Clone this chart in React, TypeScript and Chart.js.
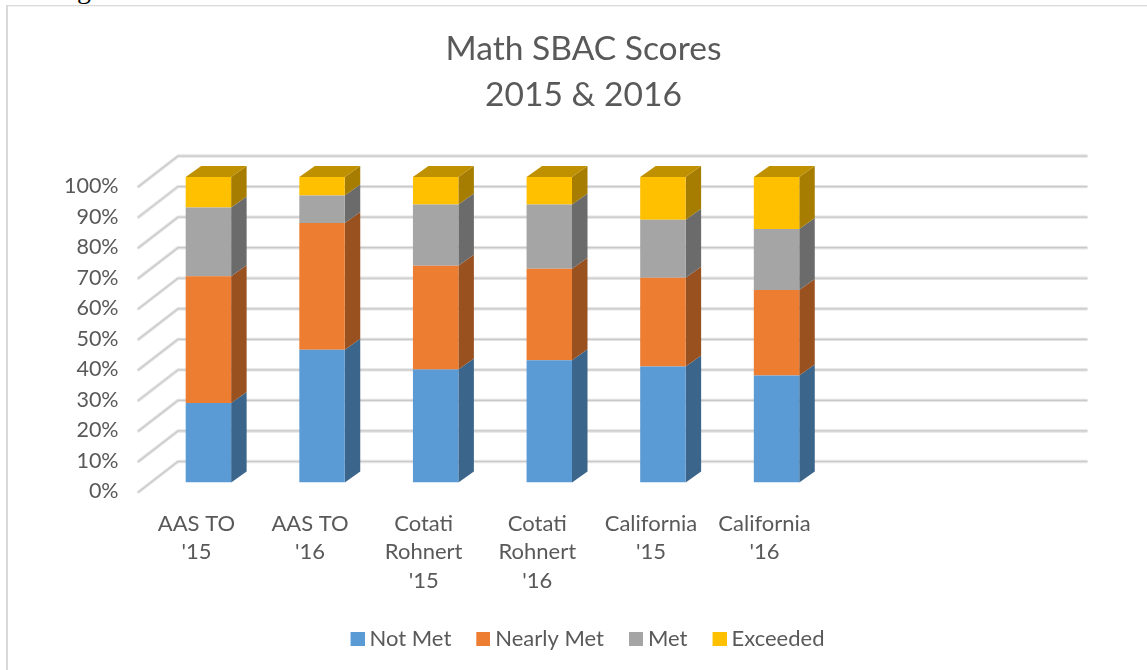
import React, { useEffect, useRef } from "react";
import { Chart, registerables } from "chart.js";

Chart.register(...registerables);

const categories: (string | string[])[] = [
  ["AAS TO", "'15"],
  ["AAS TO", "'16"],
  ["Cotati", "Rohnert", "'15"],
  ["Cotati", "Rohnert", "'16"],
  ["California", "'15"],
  ["California", "'16"],
  "",
  "",
];
const notMet = [26, 43.5, 37, 40, 38, 35];
const nearlyMet = [41.5, 41.5, 34, 30, 29, 28];
const met = [22.5, 9, 20, 21, 19, 20];
const exceeded = [10, 6, 9, 9, 14, 17];

const FONT = "Lato";
const TEXT = "#595959";

const shade = (hex: string, k: number) => {
  const n = parseInt(hex.slice(1), 16);
  const r = Math.round(((n >> 16) & 255) * k);
  const g = Math.round(((n >> 8) & 255) * k);
  const b = Math.round((n & 255) * k);
  return `rgb(${r},${g},${b})`;
};

const depth = { dx: 15.5, dy: -11 };

const legendSwatch = (color: string) => {
  const c = document.createElement("canvas");
  c.width = 26;
  c.height = 14;
  const g = c.getContext("2d") as CanvasRenderingContext2D;
  g.fillStyle = color;
  g.fillRect(12, 0, 14, 14);
  return c;
};

const box3d = {
  id: "box3d",
  afterLayout(chart: any) {
    chart.legend.left += 1;
    chart.legend.right += 1;
  },
  beforeDraw(chart: any) {
    const { ctx } = chart;
    ctx.save();
    ctx.fillStyle = "#d9d9d9";
    ctx.fillRect(6, 5, 2, 665);
    ctx.fillRect(6, 5, 1141, 1.3);
    ctx.restore();
  },
  beforeDatasetsDraw(chart: any) {
    const { ctx, scales } = chart;
    const y = scales.y;
    ctx.save();
    ctx.lineCap = "round";
    ctx.lineJoin = "round";
    y.ticks.forEach((t: any) => {
      const p = y.getPixelForValue(t.value);
      const path = () => {
        ctx.beginPath();
        ctx.moveTo(138.5, p + 9.5);
        ctx.lineTo(178, p - 21);
        ctx.lineTo(1086.5, p - 21);
        ctx.stroke();
      };
      ctx.strokeStyle = "#e4e4e4";
      ctx.lineWidth = 3.4;
      path();
      ctx.strokeStyle = "#c9c9c9";
      ctx.lineWidth = 1.2;
      path();
    });
    ctx.restore();

    ctx.save();
    const n = chart.data.datasets.length;
    chart.data.datasets.forEach((ds: any, i: number) => {
      const meta = chart.getDatasetMeta(i);
      meta.data.forEach((bar: any) => {
        const right = bar.x + bar.width / 2;
        const left = bar.x - bar.width / 2;
        ctx.fillStyle = shade(ds.backgroundColor, 0.65);
        ctx.beginPath();
        ctx.moveTo(right, bar.y);
        ctx.lineTo(right + depth.dx, bar.y + depth.dy);
        ctx.lineTo(right + depth.dx, bar.base + depth.dy);
        ctx.lineTo(right, bar.base);
        ctx.closePath();
        ctx.fill();
        if (i === n - 1) {
          ctx.fillStyle = shade(ds.backgroundColor, 0.75);
          ctx.beginPath();
          ctx.moveTo(left, bar.y);
          ctx.lineTo(left + depth.dx, bar.y + depth.dy);
          ctx.lineTo(right + depth.dx, bar.y + depth.dy);
          ctx.lineTo(right, bar.y);
          ctx.closePath();
          ctx.fill();
        }
      });
    });
    ctx.restore();
  },
};

export default function App() {
  const ref = useRef<HTMLCanvasElement>(null);
  useEffect(() => {
    document.body.style.margin = "0";
    document.body.style.background = "#fff";
    const chart = new Chart(ref.current as HTMLCanvasElement, {
      type: "bar",
      plugins: [box3d],
      data: {
        labels: categories as any,
        datasets: [
          { label: "Not Met", data: notMet, backgroundColor: "#5b9bd5" },
          { label: "Nearly Met", data: nearlyMet, backgroundColor: "#ed7d31" },
          { label: "Met", data: met, backgroundColor: "#a5a5a5" },
          { label: "Exceeded", data: exceeded, backgroundColor: "#ffc000" },
        ],
      },
      options: {
        responsive: false,
        animation: false,
        devicePixelRatio: 1,
        layout: { padding: { left: 20, right: 0, top: 0, bottom: 10 } },
        datasets: { bar: { categoryPercentage: 1, barPercentage: 0.4 } },
        scales: {
          x: {
            stacked: true,
            grid: { display: false },
            border: { display: false },
            afterFit: (s: any) => {
              s.height = 126.5;
            },
            ticks: {
              color: TEXT,
              font: { family: FONT, size: 22, lineHeight: 1.29 },
              labelOffset: -12,
              padding: 19,
              maxRotation: 0,
              minRotation: 0,
              autoSkip: false,
            },
          },
          y: {
            stacked: true,
            min: 0,
            max: 100,
            grid: { display: false },
            border: { display: false },
            afterFit: (s: any) => {
              s.width = 131.6;
            },
            ticks: {
              color: TEXT,
              font: { family: FONT, size: 21.5 },
              stepSize: 10,
              labelOffset: 9,
              padding: 25,
              callback: (v: any) => `${v}%`,
            },
          },
          spacer: {
            type: "linear",
            position: "right",
            display: true,
            min: 0,
            max: 1,
            grid: { display: false },
            border: { display: false },
            ticks: { display: false },
            afterFit: (s: any) => {
              s.width = 86.4;
            },
          },
        },
        plugins: {
          title: {
            display: true,
            text: ["Math SBAC Scores", "2015 & 2016"],
            color: TEXT,
            font: { family: FONT, size: 33.6, weight: "normal", lineHeight: 1.37 },
            padding: { top: 26, bottom: 59 },
          },
          legend: {
            display: true,
            position: "bottom",
            labels: {
              color: TEXT,
              font: { family: FONT, size: 22 },
              usePointStyle: true,
              boxWidth: 14,
              boxHeight: 14,
              padding: 19,
              generateLabels: (c: any) =>
                Chart.defaults.plugins.legend.labels
                  .generateLabels(c)
                  .map((item: any) => ({
                    ...item,
                    pointStyle: legendSwatch(item.fillStyle),
                  })),
            },
          },
          tooltip: { enabled: false },
        },
      } as any,
    });
    return () => chart.destroy();
  }, []);
  return (
    <>
      <span
        style={{
          position: "absolute",
          left: 77,
          top: -27,
          font: "28px 'Liberation Serif'",
          color: "#000",
        }}
      >
        g
      </span>
      <canvas
        ref={ref}
        width={1147}
        height={670}
        style={{ position: "absolute", left: 0, top: 0, display: "block" }}
      />
    </>
  );
}
